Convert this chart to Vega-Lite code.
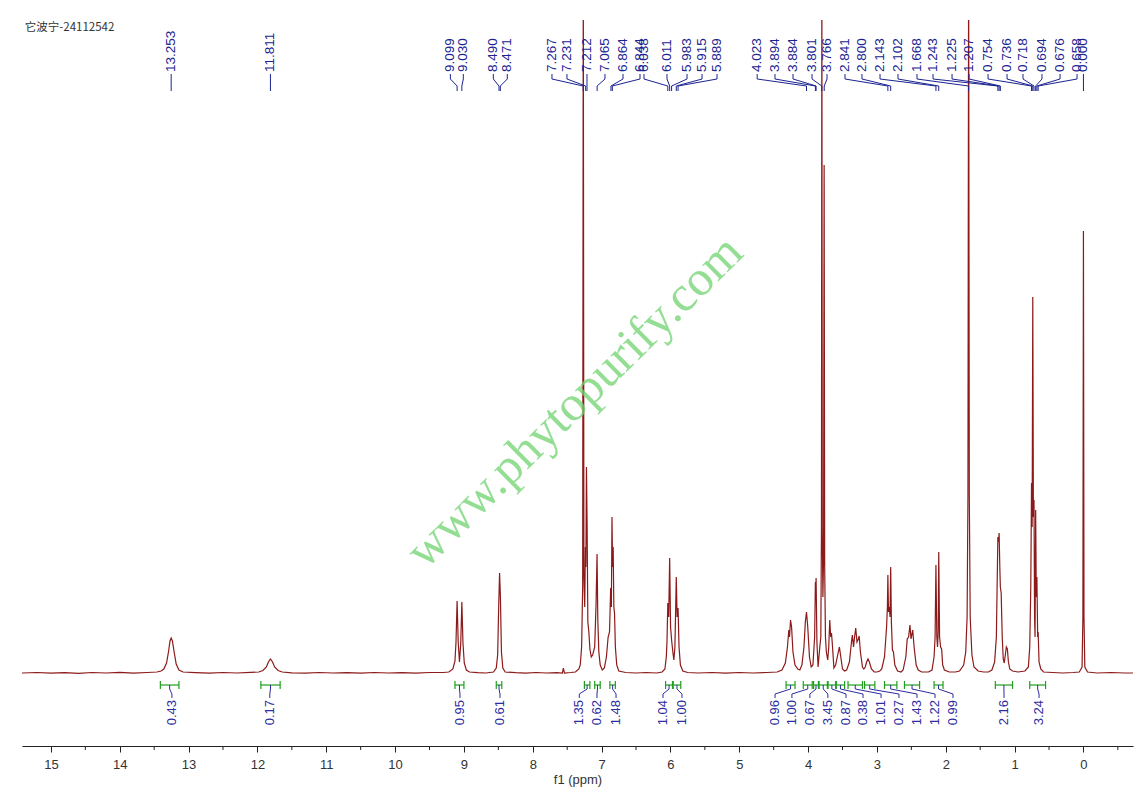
{
  "$schema": "https://vega.github.io/schema/vega-lite/v6.json",
  "width": 1111,
  "height": 726,
  "padding": {"left": 22, "top": 20, "right": 15, "bottom": 10},
  "background": "white",
  "config": {"view": {"stroke": null}, "font": "Liberation Sans"},
  "datasets": {
    "spectrum": [
      {"ppm": 15.42, "v": 4}, {"ppm": 15.2, "v": 4.5}, {"ppm": 15.0, "v": 3.8}, {"ppm": 14.8, "v": 4.4},
      {"ppm": 14.6, "v": 3.6}, {"ppm": 14.4, "v": 4.5}, {"ppm": 14.2, "v": 4}, {"ppm": 14.0, "v": 4.6},
      {"ppm": 13.8, "v": 3.9}, {"ppm": 13.6, "v": 4.5}, {"ppm": 13.46, "v": 5}, {"ppm": 13.40, "v": 6},
      {"ppm": 13.36, "v": 8}, {"ppm": 13.32, "v": 14}, {"ppm": 13.29, "v": 26}, {"ppm": 13.27, "v": 36},
      {"ppm": 13.253, "v": 39}, {"ppm": 13.235, "v": 36}, {"ppm": 13.21, "v": 25}, {"ppm": 13.18, "v": 13},
      {"ppm": 13.14, "v": 7}, {"ppm": 13.08, "v": 5}, {"ppm": 12.9, "v": 4.3}, {"ppm": 12.7, "v": 3.8},
      {"ppm": 12.5, "v": 4.5}, {"ppm": 12.3, "v": 4}, {"ppm": 12.1, "v": 4.6}, {"ppm": 11.98, "v": 5},
      {"ppm": 11.92, "v": 6.5}, {"ppm": 11.87, "v": 10}, {"ppm": 11.84, "v": 15}, {"ppm": 11.811, "v": 18},
      {"ppm": 11.78, "v": 15}, {"ppm": 11.75, "v": 10}, {"ppm": 11.70, "v": 6.5}, {"ppm": 11.64, "v": 5},
      {"ppm": 11.5, "v": 4.2}, {"ppm": 11.3, "v": 3.8}, {"ppm": 11.1, "v": 4.5}, {"ppm": 10.9, "v": 4},
      {"ppm": 10.7, "v": 4.4}, {"ppm": 10.5, "v": 3.8}, {"ppm": 10.3, "v": 4.5}, {"ppm": 10.1, "v": 4},
      {"ppm": 9.9, "v": 4.4}, {"ppm": 9.7, "v": 3.9}, {"ppm": 9.5, "v": 4.5}, {"ppm": 9.3, "v": 4.5},
      {"ppm": 9.22, "v": 5}, {"ppm": 9.16, "v": 8}, {"ppm": 9.13, "v": 16}, {"ppm": 9.115, "v": 35},
      {"ppm": 9.099, "v": 76}, {"ppm": 9.083, "v": 35}, {"ppm": 9.065, "v": 15}, {"ppm": 9.046, "v": 34},
      {"ppm": 9.030, "v": 75}, {"ppm": 9.014, "v": 34}, {"ppm": 8.995, "v": 14}, {"ppm": 8.965, "v": 7},
      {"ppm": 8.92, "v": 5}, {"ppm": 8.8, "v": 4.3}, {"ppm": 8.68, "v": 4}, {"ppm": 8.57, "v": 5},
      {"ppm": 8.53, "v": 9}, {"ppm": 8.51, "v": 22}, {"ppm": 8.495, "v": 70}, {"ppm": 8.482, "v": 104},
      {"ppm": 8.47, "v": 80}, {"ppm": 8.455, "v": 25}, {"ppm": 8.435, "v": 9}, {"ppm": 8.40, "v": 5},
      {"ppm": 8.25, "v": 4.3}, {"ppm": 8.1, "v": 3.9}, {"ppm": 7.95, "v": 4.5}, {"ppm": 7.8, "v": 4},
      {"ppm": 7.65, "v": 4.4}, {"ppm": 7.57, "v": 4}, {"ppm": 7.555, "v": 9}, {"ppm": 7.54, "v": 4},
      {"ppm": 7.45, "v": 4.5}, {"ppm": 7.38, "v": 5}, {"ppm": 7.33, "v": 8}, {"ppm": 7.31, "v": 12},
      {"ppm": 7.29, "v": 30}, {"ppm": 7.275, "v": 90}, {"ppm": 7.266, "v": 720}, {"ppm": 7.257, "v": 100},
      {"ppm": 7.245, "v": 70}, {"ppm": 7.235, "v": 130}, {"ppm": 7.228, "v": 110}, {"ppm": 7.22, "v": 210},
      {"ppm": 7.21, "v": 150}, {"ppm": 7.20, "v": 55}, {"ppm": 7.185, "v": 45}, {"ppm": 7.17, "v": 28},
      {"ppm": 7.15, "v": 20}, {"ppm": 7.13, "v": 22}, {"ppm": 7.10, "v": 30}, {"ppm": 7.08, "v": 74},
      {"ppm": 7.066, "v": 123}, {"ppm": 7.055, "v": 57}, {"ppm": 7.04, "v": 25}, {"ppm": 7.02, "v": 12},
      {"ppm": 6.99, "v": 7}, {"ppm": 6.96, "v": 9}, {"ppm": 6.93, "v": 20}, {"ppm": 6.905, "v": 40},
      {"ppm": 6.885, "v": 45}, {"ppm": 6.868, "v": 89}, {"ppm": 6.858, "v": 70}, {"ppm": 6.849, "v": 160},
      {"ppm": 6.84, "v": 110}, {"ppm": 6.832, "v": 130}, {"ppm": 6.822, "v": 70}, {"ppm": 6.812, "v": 64},
      {"ppm": 6.80, "v": 30}, {"ppm": 6.78, "v": 12}, {"ppm": 6.75, "v": 6}, {"ppm": 6.65, "v": 4.5},
      {"ppm": 6.5, "v": 4}, {"ppm": 6.35, "v": 4.5}, {"ppm": 6.2, "v": 4}, {"ppm": 6.12, "v": 5},
      {"ppm": 6.08, "v": 8}, {"ppm": 6.06, "v": 20}, {"ppm": 6.05, "v": 35}, {"ppm": 6.038, "v": 74},
      {"ppm": 6.025, "v": 60}, {"ppm": 6.011, "v": 119}, {"ppm": 5.998, "v": 50}, {"ppm": 5.983, "v": 37},
      {"ppm": 5.965, "v": 25}, {"ppm": 5.95, "v": 17}, {"ppm": 5.935, "v": 30}, {"ppm": 5.915, "v": 100},
      {"ppm": 5.903, "v": 60}, {"ppm": 5.889, "v": 69}, {"ppm": 5.875, "v": 30}, {"ppm": 5.855, "v": 12},
      {"ppm": 5.82, "v": 6}, {"ppm": 5.75, "v": 4.5}, {"ppm": 5.6, "v": 4}, {"ppm": 5.4, "v": 4.5},
      {"ppm": 5.2, "v": 3.9}, {"ppm": 5.0, "v": 4.5}, {"ppm": 4.8, "v": 4}, {"ppm": 4.6, "v": 4.5},
      {"ppm": 4.45, "v": 5}, {"ppm": 4.38, "v": 7}, {"ppm": 4.33, "v": 14}, {"ppm": 4.30, "v": 30},
      {"ppm": 4.28, "v": 47}, {"ppm": 4.27, "v": 40}, {"ppm": 4.255, "v": 57}, {"ppm": 4.24, "v": 50},
      {"ppm": 4.22, "v": 25}, {"ppm": 4.19, "v": 12}, {"ppm": 4.15, "v": 8}, {"ppm": 4.12, "v": 7},
      {"ppm": 4.09, "v": 12}, {"ppm": 4.06, "v": 30}, {"ppm": 4.04, "v": 55}, {"ppm": 4.023, "v": 65},
      {"ppm": 4.005, "v": 50}, {"ppm": 3.98, "v": 20}, {"ppm": 3.955, "v": 10}, {"ppm": 3.93, "v": 12},
      {"ppm": 3.905, "v": 40}, {"ppm": 3.894, "v": 95}, {"ppm": 3.889, "v": 80}, {"ppm": 3.884, "v": 99},
      {"ppm": 3.872, "v": 35}, {"ppm": 3.855, "v": 10}, {"ppm": 3.83, "v": 30}, {"ppm": 3.815, "v": 40},
      {"ppm": 3.806, "v": 150}, {"ppm": 3.800, "v": 720}, {"ppm": 3.794, "v": 150}, {"ppm": 3.785, "v": 80},
      {"ppm": 3.775, "v": 120}, {"ppm": 3.767, "v": 512}, {"ppm": 3.759, "v": 110}, {"ppm": 3.748, "v": 40},
      {"ppm": 3.735, "v": 25}, {"ppm": 3.715, "v": 17}, {"ppm": 3.70, "v": 30}, {"ppm": 3.685, "v": 57},
      {"ppm": 3.672, "v": 40}, {"ppm": 3.66, "v": 44}, {"ppm": 3.645, "v": 30}, {"ppm": 3.625, "v": 9},
      {"ppm": 3.60, "v": 12}, {"ppm": 3.57, "v": 22}, {"ppm": 3.545, "v": 30}, {"ppm": 3.525, "v": 20},
      {"ppm": 3.50, "v": 8}, {"ppm": 3.47, "v": 6}, {"ppm": 3.44, "v": 7}, {"ppm": 3.40, "v": 15},
      {"ppm": 3.37, "v": 35}, {"ppm": 3.357, "v": 42}, {"ppm": 3.34, "v": 30}, {"ppm": 3.325, "v": 40},
      {"ppm": 3.308, "v": 49}, {"ppm": 3.29, "v": 35}, {"ppm": 3.27, "v": 38}, {"ppm": 3.258, "v": 41},
      {"ppm": 3.24, "v": 25}, {"ppm": 3.21, "v": 10}, {"ppm": 3.19, "v": 8}, {"ppm": 3.17, "v": 10},
      {"ppm": 3.15, "v": 15}, {"ppm": 3.13, "v": 18}, {"ppm": 3.11, "v": 15}, {"ppm": 3.08, "v": 8},
      {"ppm": 3.04, "v": 5}, {"ppm": 3.0, "v": 5}, {"ppm": 2.96, "v": 6}, {"ppm": 2.93, "v": 8},
      {"ppm": 2.89, "v": 20}, {"ppm": 2.86, "v": 50}, {"ppm": 2.848, "v": 70}, {"ppm": 2.841, "v": 102},
      {"ppm": 2.832, "v": 65}, {"ppm": 2.82, "v": 70}, {"ppm": 2.81, "v": 60}, {"ppm": 2.800, "v": 110},
      {"ppm": 2.79, "v": 55}, {"ppm": 2.775, "v": 27}, {"ppm": 2.76, "v": 25}, {"ppm": 2.74, "v": 12},
      {"ppm": 2.70, "v": 6}, {"ppm": 2.65, "v": 5}, {"ppm": 2.62, "v": 7}, {"ppm": 2.58, "v": 20},
      {"ppm": 2.56, "v": 38}, {"ppm": 2.54, "v": 40}, {"ppm": 2.52, "v": 52}, {"ppm": 2.505, "v": 38},
      {"ppm": 2.48, "v": 47}, {"ppm": 2.46, "v": 30}, {"ppm": 2.43, "v": 12}, {"ppm": 2.40, "v": 7},
      {"ppm": 2.35, "v": 5}, {"ppm": 2.25, "v": 5}, {"ppm": 2.20, "v": 7}, {"ppm": 2.17, "v": 20},
      {"ppm": 2.155, "v": 40}, {"ppm": 2.143, "v": 112}, {"ppm": 2.13, "v": 40}, {"ppm": 2.12, "v": 30},
      {"ppm": 2.11, "v": 45}, {"ppm": 2.102, "v": 125}, {"ppm": 2.09, "v": 40}, {"ppm": 2.075, "v": 30},
      {"ppm": 2.06, "v": 28}, {"ppm": 2.045, "v": 12}, {"ppm": 2.02, "v": 7}, {"ppm": 1.95, "v": 5},
      {"ppm": 1.86, "v": 5}, {"ppm": 1.80, "v": 6}, {"ppm": 1.74, "v": 12}, {"ppm": 1.71, "v": 25},
      {"ppm": 1.69, "v": 60}, {"ppm": 1.678, "v": 180}, {"ppm": 1.668, "v": 720}, {"ppm": 1.658, "v": 180},
      {"ppm": 1.645, "v": 60}, {"ppm": 1.62, "v": 22}, {"ppm": 1.59, "v": 10}, {"ppm": 1.53, "v": 6},
      {"ppm": 1.45, "v": 5}, {"ppm": 1.38, "v": 5}, {"ppm": 1.33, "v": 7}, {"ppm": 1.29, "v": 15},
      {"ppm": 1.265, "v": 40}, {"ppm": 1.252, "v": 100}, {"ppm": 1.243, "v": 140}, {"ppm": 1.234, "v": 135},
      {"ppm": 1.225, "v": 144}, {"ppm": 1.215, "v": 110}, {"ppm": 1.207, "v": 90}, {"ppm": 1.195, "v": 84},
      {"ppm": 1.18, "v": 40}, {"ppm": 1.165, "v": 18}, {"ppm": 1.15, "v": 14}, {"ppm": 1.135, "v": 22},
      {"ppm": 1.12, "v": 30}, {"ppm": 1.105, "v": 28}, {"ppm": 1.09, "v": 15}, {"ppm": 1.07, "v": 8},
      {"ppm": 1.03, "v": 6}, {"ppm": 0.95, "v": 5}, {"ppm": 0.85, "v": 6}, {"ppm": 0.80, "v": 10},
      {"ppm": 0.78, "v": 30}, {"ppm": 0.765, "v": 90}, {"ppm": 0.754, "v": 194}, {"ppm": 0.745, "v": 150},
      {"ppm": 0.736, "v": 380}, {"ppm": 0.727, "v": 160}, {"ppm": 0.718, "v": 177}, {"ppm": 0.71, "v": 60},
      {"ppm": 0.703, "v": 40}, {"ppm": 0.694, "v": 167}, {"ppm": 0.685, "v": 80}, {"ppm": 0.676, "v": 100},
      {"ppm": 0.665, "v": 40}, {"ppm": 0.658, "v": 45}, {"ppm": 0.645, "v": 15}, {"ppm": 0.62, "v": 8},
      {"ppm": 0.58, "v": 5}, {"ppm": 0.45, "v": 4.5}, {"ppm": 0.3, "v": 4}, {"ppm": 0.15, "v": 4.5},
      {"ppm": 0.06, "v": 5}, {"ppm": 0.02, "v": 10}, {"ppm": 0.008, "v": 60}, {"ppm": 0.0, "v": 446},
      {"ppm": -0.008, "v": 60}, {"ppm": -0.02, "v": 10}, {"ppm": -0.06, "v": 5}, {"ppm": -0.2, "v": 4},
      {"ppm": -0.4, "v": 4.5}, {"ppm": -0.6, "v": 4}, {"ppm": -0.72, "v": 4}
    ],
    "peaks": [
      {"t": "13.253", "p": 13.253, "lx": 13.253}, {"t": "11.811", "p": 11.811, "lx": 11.811},
      {"t": "9.099", "p": 9.099, "lx": 9.197}, {"t": "9.030", "p": 9.030, "lx": 9.009},
      {"t": "8.490", "p": 8.490, "lx": 8.573}, {"t": "8.471", "p": 8.471, "lx": 8.370},
      {"t": "7.267", "p": 7.267, "lx": 7.721}, {"t": "7.231", "p": 7.231, "lx": 7.503},
      {"t": "7.212", "p": 7.212, "lx": 7.212}, {"t": "7.065", "p": 7.065, "lx": 6.951},
      {"t": "6.864", "p": 6.864, "lx": 6.689}, {"t": "6.844", "p": 6.844, "lx": 6.442},
      {"t": "6.038", "p": 6.038, "lx": 6.384}, {"t": "6.011", "p": 6.011, "lx": 6.05},
      {"t": "5.983", "p": 5.983, "lx": 5.759}, {"t": "5.915", "p": 5.915, "lx": 5.541},
      {"t": "5.889", "p": 5.889, "lx": 5.323}, {"t": "4.023", "p": 4.023, "lx": 4.74},
      {"t": "3.894", "p": 3.894, "lx": 4.481}, {"t": "3.884", "p": 3.884, "lx": 4.219},
      {"t": "3.801", "p": 3.801, "lx": 3.943}, {"t": "3.766", "p": 3.766, "lx": 3.725},
      {"t": "2.841", "p": 2.841, "lx": 3.464}, {"t": "2.800", "p": 2.800, "lx": 3.217},
      {"t": "2.143", "p": 2.143, "lx": 2.955}, {"t": "2.102", "p": 2.102, "lx": 2.694},
      {"t": "1.668", "p": 1.668, "lx": 2.418}, {"t": "1.243", "p": 1.243, "lx": 2.185},
      {"t": "1.225", "p": 1.225, "lx": 1.909}, {"t": "1.207", "p": 1.207, "lx": 1.662},
      {"t": "0.754", "p": 0.754, "lx": 1.386}, {"t": "0.736", "p": 0.736, "lx": 1.11},
      {"t": "0.718", "p": 0.718, "lx": 0.878}, {"t": "0.694", "p": 0.694, "lx": 0.602},
      {"t": "0.676", "p": 0.676, "lx": 0.34}, {"t": "0.658", "p": 0.658, "lx": 0.093},
      {"t": "0.000", "p": 0.0, "lx": 0.0}
    ],
    "integrals": [
      {"t": "0.43", "a": 13.41, "b": 13.14, "m": 13.275, "lx": 13.242},
      {"t": "0.17", "a": 11.95, "b": 11.67, "m": 11.81, "lx": 11.82},
      {"t": "0.95", "a": 9.13, "b": 9.00, "m": 9.065, "lx": 9.057},
      {"t": "0.61", "a": 8.53, "b": 8.45, "m": 8.49, "lx": 8.476},
      {"t": "1.35", "a": 7.25, "b": 7.17, "m": 7.21, "lx": 7.324},
      {"t": "0.62", "a": 7.10, "b": 7.02, "m": 7.06, "lx": 7.067},
      {"t": "1.48", "a": 6.88, "b": 6.80, "m": 6.84, "lx": 6.79},
      {"t": "1.04", "a": 6.07, "b": 5.97, "m": 6.02, "lx": 6.108},
      {"t": "1.00", "a": 5.96, "b": 5.85, "m": 5.905, "lx": 5.832},
      {"t": "0.96", "a": 4.32, "b": 4.19, "m": 4.255, "lx": 4.48},
      {"t": "1.00", "a": 4.07, "b": 3.94, "m": 4.005, "lx": 4.235},
      {"t": "0.67", "a": 3.92, "b": 3.85, "m": 3.885, "lx": 3.974},
      {"t": "3.45", "a": 3.84, "b": 3.72, "m": 3.78, "lx": 3.713},
      {"t": "0.87", "a": 3.71, "b": 3.60, "m": 3.655, "lx": 3.449},
      {"t": "0.38", "a": 3.59, "b": 3.47, "m": 3.53, "lx": 3.202},
      {"t": "1.01", "a": 3.42, "b": 3.21, "m": 3.315, "lx": 2.94},
      {"t": "0.27", "a": 3.18, "b": 3.03, "m": 3.105, "lx": 2.68},
      {"t": "1.43", "a": 2.89, "b": 2.71, "m": 2.80, "lx": 2.418},
      {"t": "1.22", "a": 2.60, "b": 2.38, "m": 2.49, "lx": 2.156},
      {"t": "0.99", "a": 2.17, "b": 2.04, "m": 2.105, "lx": 1.895},
      {"t": "2.16", "a": 1.28, "b": 1.03, "m": 1.155, "lx": 1.154},
      {"t": "3.24", "a": 0.78, "b": 0.55, "m": 0.665, "lx": 0.645}
    ],
    "minorTicks": [
      {"ppm": -0.5}, {"ppm": 0.5}, {"ppm": 1.5}, {"ppm": 2.5}, {"ppm": 3.5}, {"ppm": 4.5},
      {"ppm": 5.5}, {"ppm": 6.5}, {"ppm": 7.5}, {"ppm": 8.5}, {"ppm": 9.5}, {"ppm": 10.5},
      {"ppm": 11.5}, {"ppm": 12.5}, {"ppm": 13.5}, {"ppm": 14.5}
    ]
  },
  "layer": [
    {
      "data": {"name": "spectrum"},
      "mark": {"type": "line", "color": "#8c1a1a", "strokeWidth": 1.2, "clip": true, "interpolate": "linear"},
      "encoding": {
        "x": {
          "field": "ppm", "type": "quantitative",
          "scale": {"domain": [-0.72, 15.42], "reverse": true, "nice": false, "zero": false},
          "axis": {
            "values": [0, 1, 2, 3, 4, 5, 6, 7, 8, 9, 10, 11, 12, 13, 14, 15],
            "format": "d",
            "tickSize": 6,
            "grid": false,
            "domainColor": "#222", "tickColor": "#222",
            "labelColor": "#333", "labelFontSize": 13, "labelFont": "Liberation Sans",
            "labelPadding": 6, "labelOverlap": false, "labelFlush": false,
            "title": "f1 (ppm)", "titleFontSize": 13, "titleFontWeight": "normal",
            "titleColor": "#333", "titleFont": "Liberation Sans", "titlePadding": 2
          }
        },
        "y": {
          "field": "v", "type": "quantitative",
          "scale": {"domain": [-69, 657], "nice": false, "zero": false},
          "axis": null
        }
      }
    },
    {
      "data": {"name": "minorTicks"},
      "mark": {"type": "rule", "color": "#222", "strokeWidth": 1},
      "encoding": {
        "x": {"field": "ppm", "type": "quantitative"},
        "y": {"datum": -69, "type": "quantitative"},
        "y2": {"datum": -73}
      }
    },
    {
      "data": {"name": "peaks"},
      "mark": {"type": "rule", "color": "#1a2390", "strokeWidth": 1},
      "encoding": {
        "x": {"field": "lx", "type": "quantitative"},
        "y": {"datum": 603, "type": "quantitative"},
        "y2": {"datum": 598}
      }
    },
    {
      "data": {"name": "peaks"},
      "mark": {"type": "rule", "color": "#1a2390", "strokeWidth": 1},
      "encoding": {
        "x": {"field": "lx", "type": "quantitative"},
        "x2": {"field": "p"},
        "y": {"datum": 598, "type": "quantitative"},
        "y2": {"datum": 591}
      }
    },
    {
      "data": {"name": "peaks"},
      "mark": {"type": "rule", "color": "#1a2390", "strokeWidth": 1},
      "encoding": {
        "x": {"field": "p", "type": "quantitative"},
        "y": {"datum": 591, "type": "quantitative"},
        "y2": {"datum": 586}
      }
    },
    {
      "data": {"name": "peaks"},
      "mark": {"type": "text", "angle": 270, "align": "left", "baseline": "middle", "fontSize": 13.5, "font": "Liberation Sans", "color": "#1a2390"},
      "encoding": {
        "x": {"field": "lx", "type": "quantitative"},
        "y": {"datum": 605, "type": "quantitative"},
        "text": {"field": "t"}
      }
    },
    {
      "data": {"name": "integrals"},
      "mark": {"type": "rule", "color": "#1e9e1e", "strokeWidth": 1.2},
      "encoding": {
        "x": {"field": "a", "type": "quantitative"},
        "x2": {"field": "b"},
        "y": {"datum": -8, "type": "quantitative"}
      }
    },
    {
      "data": {"name": "integrals"},
      "mark": {"type": "rule", "color": "#1e9e1e", "strokeWidth": 1.2},
      "encoding": {
        "x": {"field": "a", "type": "quantitative"},
        "y": {"datum": -4, "type": "quantitative"},
        "y2": {"datum": -12}
      }
    },
    {
      "data": {"name": "integrals"},
      "mark": {"type": "rule", "color": "#1e9e1e", "strokeWidth": 1.2},
      "encoding": {
        "x": {"field": "b", "type": "quantitative"},
        "y": {"datum": -4, "type": "quantitative"},
        "y2": {"datum": -12}
      }
    },
    {
      "data": {"name": "integrals"},
      "mark": {"type": "rule", "color": "#2c2ca0", "strokeWidth": 1},
      "encoding": {
        "x": {"field": "m", "type": "quantitative"},
        "y": {"datum": -8, "type": "quantitative"},
        "y2": {"datum": -12}
      }
    },
    {
      "data": {"name": "integrals"},
      "mark": {"type": "rule", "color": "#2c2ca0", "strokeWidth": 1},
      "encoding": {
        "x": {"field": "m", "type": "quantitative"},
        "x2": {"field": "lx"},
        "y": {"datum": -12, "type": "quantitative"},
        "y2": {"datum": -17}
      }
    },
    {
      "data": {"name": "integrals"},
      "mark": {"type": "rule", "color": "#2c2ca0", "strokeWidth": 1},
      "encoding": {
        "x": {"field": "lx", "type": "quantitative"},
        "y": {"datum": -17, "type": "quantitative"},
        "y2": {"datum": -21}
      }
    },
    {
      "data": {"name": "integrals"},
      "mark": {"type": "text", "angle": 270, "align": "right", "baseline": "middle", "fontSize": 13, "font": "Liberation Sans", "color": "#2c2ca0"},
      "encoding": {
        "x": {"field": "lx", "type": "quantitative"},
        "y": {"datum": -23, "type": "quantitative"},
        "text": {"field": "t"}
      }
    },
    {
      "data": {"values": [{"t": "www.phytopurify.com", "x": 7.39, "y": 275}]},
      "mark": {"type": "text", "angle": -44.6, "align": "center", "baseline": "middle", "fontSize": 50, "font": "Liberation Serif", "color": "#6fd46f", "opacity": 0.75},
      "encoding": {
        "x": {"field": "x", "type": "quantitative"},
        "y": {"field": "y", "type": "quantitative"},
        "text": {"field": "t"}
      }
    },
    {
      "data": {"values": [{"t": "它波宁-24112542", "x": 15.38, "y": 649}]},
      "mark": {"type": "text", "align": "left", "baseline": "middle", "fontSize": 11.5, "font": "Noto Sans CJK SC", "color": "#333"},
      "encoding": {
        "x": {"field": "x", "type": "quantitative"},
        "y": {"field": "y", "type": "quantitative"},
        "text": {"field": "t"}
      }
    }
  ]
}
